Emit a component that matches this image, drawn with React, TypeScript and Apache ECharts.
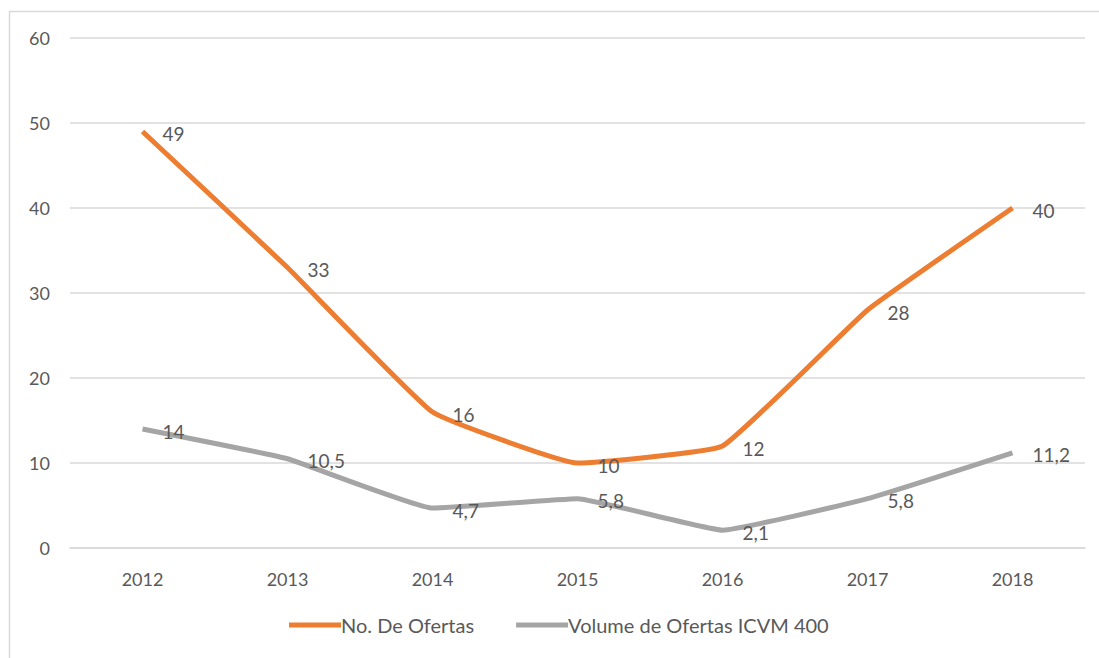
import React, { useEffect, useRef } from "react";
import * as echarts from "echarts";

const years = ["2012", "2013", "2014", "2015", "2016", "2017", "2018"];
const numOfertas = [49, 33, 16, 10, 12, 28, 40];
const volumeICVM = [14, 10.5, 4.7, 5.8, 2.1, 5.8, 11.2];
const seriesNames = ["No. De Ofertas", "Volume de Ofertas ICVM 400"];
const yTicks = { min: 0, max: 60, interval: 10 };

const FONT = "Lato";
const TEXT = "#595959";

export default function App() {
  const ref = useRef<HTMLDivElement>(null);
  useEffect(() => {
    if (!ref.current) return;
    const chart = echarts.init(ref.current, null, { renderer: "svg" });
    const fmt = (p: any) => String(p.value).replace(".", ",");
    const labelStyle = {
      show: true,
      position: "right",
      distance: 20,
      offset: [0, 2],
      color: TEXT,
      fontFamily: FONT,
      fontSize: 19,
      formatter: fmt,
    };
    chart.setOption({
      animation: false,
      backgroundColor: "#ffffff",
      textStyle: { fontFamily: FONT },
      graphic: [
        {
          type: "rect",
          shape: { x: 9.5, y: 11.5, width: 1100, height: 660 },
          style: { fill: "none", stroke: "#D9D9D9", lineWidth: 1.5 },
          silent: true,
          z: -10,
        },
      ],
      grid: { left: 70, right: 14, top: 38, bottom: 110, containLabel: false },
      xAxis: {
        type: "category",
        data: years,
        boundaryGap: true,
        axisLine: { show: true, lineStyle: { color: "#D9D9D9", width: 1.5 } },
        axisTick: { show: false },
        axisLabel: { color: TEXT, fontFamily: FONT, fontSize: 18, margin: 22 },
      },
      yAxis: {
        type: "value",
        min: yTicks.min,
        max: yTicks.max,
        interval: yTicks.interval,
        axisLine: { show: false },
        axisTick: { show: false },
        axisLabel: { color: TEXT, fontFamily: FONT, fontSize: 18, margin: 20 },
        splitLine: { lineStyle: { color: "#D9D9D9", width: 1.5 } },
      },
      legend: {
        bottom: 18,
        left: 284,
        itemWidth: 52,
        itemHeight: 5,
        itemGap: 42,
        icon: "rect",
        textStyle: { color: TEXT, fontFamily: FONT, fontSize: 20, padding: [0, 0, 0, -5] },
        data: seriesNames,
      },
      series: [
        {
          name: seriesNames[0],
          type: "line",
          data: numOfertas,
          smooth: 0.1,
          showSymbol: true,
          symbol: "circle",
          symbolSize: 0.1,
          lineStyle: { color: "#ED7D31", width: 5 },
          itemStyle: { color: "#ED7D31" },
          label: labelStyle,
        },
        {
          name: seriesNames[1],
          type: "line",
          data: volumeICVM,
          smooth: 0.1,
          showSymbol: true,
          symbol: "circle",
          symbolSize: 0.1,
          lineStyle: { color: "#A5A5A5", width: 5 },
          itemStyle: { color: "#A5A5A5" },
          label: labelStyle,
        },
      ],
    });
    return () => chart.dispose();
  }, []);
  return (
    <div
      ref={ref}
      style={{ position: "fixed", left: 0, top: 0, width: 1099, height: 658 }}
    />
  );
}
